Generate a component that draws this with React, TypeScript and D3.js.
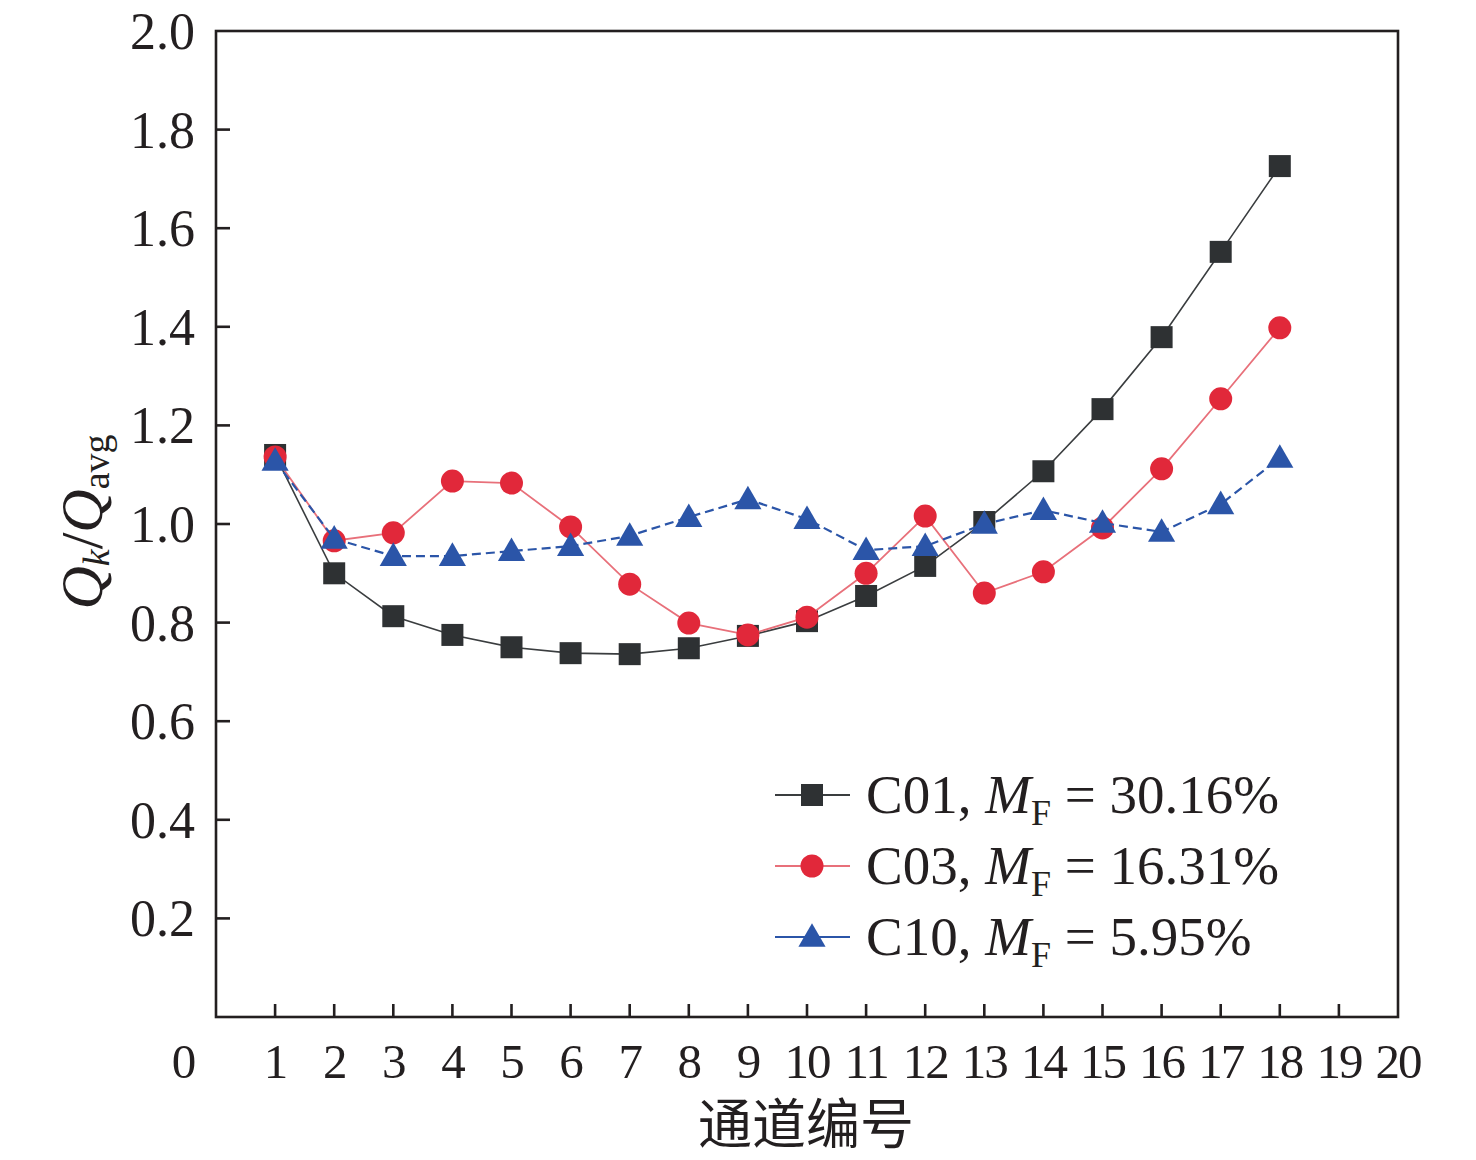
import * as d3 from "d3";
import { useEffect } from "react";

// 通道编号 1..18
const channels = [1, 2, 3, 4, 5, 6, 7, 8, 9, 10, 11, 12, 13, 14, 15, 16, 17, 18];

const c01 = [1.14, 0.9, 0.813, 0.775, 0.75, 0.738, 0.736, 0.748, 0.773, 0.803, 0.854, 0.915, 1.004, 1.107, 1.233, 1.379, 1.552, 1.726];
const c03 = [1.136, 0.966, 0.982, 1.087, 1.083, 0.994, 0.878, 0.799, 0.775, 0.811, 0.9, 1.016, 0.86, 0.903, 0.992, 1.112, 1.254, 1.398];
const c10 = [1.128, 0.97, 0.935, 0.935, 0.945, 0.955, 0.976, 1.014, 1.05, 1.01, 0.947, 0.955, 1.0, 1.028, 1.002, 0.984, 1.04, 1.134];

const xTicks = d3.range(0, 21);
const yTicks = [0.2, 0.4, 0.6, 0.8, 1.0, 1.2, 1.4, 1.6, 1.8, 2.0];

const legendItems = [
  { name: "C01", mf: "30.16%", marker: "square", color: "#2e3133", line: "#3a3d3f" },
  { name: "C03", mf: "16.31%", marker: "circle", color: "#e1283a", line: "#e8707a" },
  { name: "C10", mf: "5.95%", marker: "triangle", color: "#2b55a8", line: "#2b55a8" },
];

const margin = { top: 31, right: 78, bottom: 143, left: 216 };
const W = 1476;
const H = 1160;

const serif = "'Liberation Serif', 'Times New Roman', serif";

function Marker({ kind, x, y, color }: { kind: string; x: number; y: number; color: string }) {
  if (kind === "square") {
    return <rect x={x - 11} y={y - 11} width={22} height={22} fill={color} />;
  }
  if (kind === "circle") {
    return <circle cx={x} cy={y} r={11.5} fill={color} />;
  }
  const sym = d3.symbol(d3.symbolTriangle, 320)();
  return <path d={sym ?? ""} transform={`translate(${x},${y + 2})`} fill={color} />;
}

export default function App() {
  useEffect(() => {
    document.body.style.margin = "0";
  }, []);

  const x = d3.scaleLinear().domain([0, 20]).range([margin.left, W - margin.right]);
  const y = d3.scaleLinear().domain([0, 2]).range([H - margin.bottom, margin.top]);

  const line = d3
    .line<number>()
    .x((_, i) => x(channels[i]))
    .y((d) => y(d));

  const series = [
    { values: c01, ...legendItems[0], width: 1.6, dash: "" },
    { values: c03, ...legendItems[1], width: 1.8, dash: "" },
    { values: c10, ...legendItems[2], width: 2.2, dash: "9 5" },
  ];

  const x0 = margin.left;
  const y0 = H - margin.bottom;

  return (
    <svg width={W} height={H} style={{ display: "block", background: "#fff" }}>
      {/* frame */}
      <rect
        x={x0}
        y={margin.top}
        width={W - margin.right - margin.left}
        height={y0 - margin.top}
        fill="none"
        stroke="#231f20"
        strokeWidth={2.6}
      />

      {/* x ticks */}
      {xTicks.map((t) => (
        <g key={`x${t}`}>
          {t > 0 && t < 20 && (
            <line x1={x(t)} x2={x(t)} y1={y0} y2={y0 - 13} stroke="#231f20" strokeWidth={2.6} />
          )}
          <text
            x={t === 0 ? x(t) - 33 : x(t)}
            y={1078}
            textAnchor="middle"
            fontFamily={serif}
            fontSize={49}
            letterSpacing={-2}
            fill="#231f20"
          >
            {t}
          </text>
        </g>
      ))}

      {/* y ticks */}
      {yTicks.map((t) => (
        <g key={`y${t}`}>
          {t < 2 && (
            <line x1={x0} x2={x0 + 14} y1={y(t)} y2={y(t)} stroke="#231f20" strokeWidth={2.6} />
          )}
          <text
            x={195}
            y={y(t) + 18}
            textAnchor="end"
            fontFamily={serif}
            fontSize={52}
            fill="#231f20"
          >
            {t.toFixed(1)}
          </text>
        </g>
      ))}

      {/* y title */}
      <text
        transform="translate(102,522) rotate(-90)"
        textAnchor="middle"
        fontFamily={serif}
        fontSize={60}
        fill="#231f20"
      >
        <tspan fontStyle="italic">Q</tspan>
        <tspan fontStyle="italic" fontSize={38} dy={7}>k</tspan>
        <tspan dy={-7}>/</tspan>
        <tspan fontStyle="italic">Q</tspan>
        <tspan fontSize={38} dy={7}>avg</tspan>
      </text>

      {/* x title */}
      <text
        x={806}
        y={1144}
        textAnchor="middle"
        fontFamily="'Noto Sans CJK SC', sans-serif"
        fontSize={54}
        fill="#231f20"
      >
        通道编号
      </text>

      {/* series */}
      {series.map((s) => (
        <g key={s.name}>
          <path
            d={line(s.values) ?? ""}
            fill="none"
            stroke={s.line}
            strokeWidth={s.width}
            strokeDasharray={s.dash}
          />
          {s.values.map((v, i) => (
            <Marker key={i} kind={s.marker} x={x(channels[i])} y={y(v)} color={s.color} />
          ))}
        </g>
      ))}

      {/* legend */}
      {legendItems.map((it, i) => {
        const cy = 795 + i * 71;
        return (
          <g key={it.name}>
            <line x1={775} x2={850} y1={cy} y2={cy} stroke={it.line} strokeWidth={2.2} />
            <Marker kind={it.marker} x={812} y={cy} color={it.color} />
            <text x={866} y={cy + 18} fontFamily={serif} fontSize={55} fill="#231f20">
              <tspan>{it.name}, </tspan>
              <tspan fontStyle="italic">M</tspan>
              <tspan fontSize={36} dy={12}>F</tspan>
              <tspan dy={-12}> = {it.mf}</tspan>
            </text>
          </g>
        );
      })}
    </svg>
  );
}
